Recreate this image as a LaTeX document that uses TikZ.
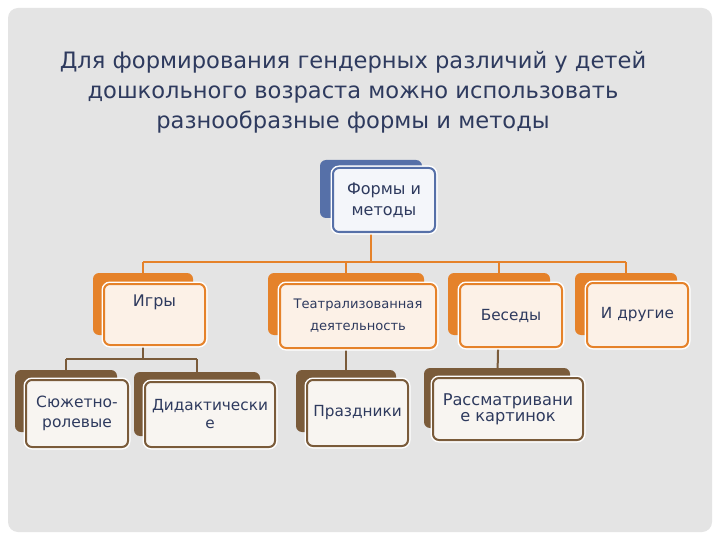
\documentclass[tikz,border=0pt]{standalone}
\usepackage{fontspec}
\setmainfont{DejaVu Sans}
\usetikzlibrary{calc}
\definecolor{panel}{HTML}{E4E4E4}
\definecolor{ink}{HTML}{2E3A5E}
\definecolor{org}{HTML}{E5822A}
\definecolor{orgfill}{HTML}{FCF1E7}
\definecolor{brn}{HTML}{7A5B3A}
\definecolor{brnfill}{HTML}{F8F5F1}
\definecolor{blu}{HTML}{5670A8}
\definecolor{blufill}{HTML}{F4F6FA}
\pgfdeclarelayer{bgpanel}
\pgfdeclarelayer{bglines}
\pgfsetlayers{bgpanel,bglines,main}
\tikzset{
  boxbase/.style={rectangle, rounded corners=6pt, inner sep=0pt, align=center, text=ink, font=\fontsize{15.3}{20}\selectfont},
  backbox/.style={boxbase, fill=#1},
  frontbox/.style={boxbase, fill=#1fill, draw=#1, line width=2pt,
     preaction={draw=white, line width=5pt}},
  olink/.style={draw=org, line width=2pt},
  blink/.style={draw=brn, line width=2pt},
  boxtext/.style={inner sep=0pt, align=center, text=ink, font=\fontsize{16}{20}\selectfont}
}
\begin{document}
\begin{tikzpicture}[x=1pt,y=-1pt]
\useasboundingbox (0,0) rectangle (720,540);
\begin{pgfonlayer}{bgpanel}
\fill[white] (0,0) rectangle (720,540);
\fill[panel, rounded corners=10pt] (8,8) rectangle (712,532);
\end{pgfonlayer}

% title
\node[text=ink, align=center, font=\fontsize{22.6}{30}\selectfont] (title) at (353,92)
  {Для формирования гендерных различий у детей\\дошкольного возраста можно использовать\\разнообразные формы и методы};

% top node
\node[backbox=blu, minimum width=102pt, minimum height=58pt] (topB) at (371,189) {};
\node[frontbox=blu, minimum width=102pt, minimum height=64pt, font=\fontsize{16}{21}\selectfont] (top) at (384,200) {Формы и\\методы};

% level 2
\node[backbox=org, minimum width=100pt, minimum height=62pt] (igryB) at (143,304) {};
\node[frontbox=org, minimum width=101pt, minimum height=61pt] (igry) at (154.5,314.5) {};
\node[boxtext] (igryT) at (154.5,302) {Игры};

\node[backbox=org, minimum width=156pt, minimum height=62pt] (teatrB) at (346,304) {};
\node[frontbox=org, minimum width=156pt, minimum height=64pt, font=\fontsize{13.1}{22}\selectfont] (teatr) at (358,316) {Театрализованная\\деятельность};

\node[backbox=org, minimum width=102pt, minimum height=62pt] (besB) at (499,304) {};
\node[frontbox=org, minimum width=102pt, minimum height=63pt] (bes) at (511,315.5) {Беседы};

\node[backbox=org, minimum width=102pt, minimum height=62pt] (drugB) at (626,304) {};
\node[frontbox=org, minimum width=101pt, minimum height=64pt] (drug) at (637.5,315) {И другие};

% level 3
\node[backbox=brn, minimum width=102pt, minimum height=62pt] (syuzB) at (66,401) {};
\node[frontbox=brn, minimum width=102pt, minimum height=67pt, font=\fontsize{15.5}{20}\selectfont] (syuz) at (77,413.5) {Сюжетно-\\ролевые};

\node[backbox=brn, minimum width=126pt, minimum height=64pt] (didB) at (197,404) {};
\node[frontbox=brn, minimum width=130pt, minimum height=65pt, font=\fontsize{15.3}{18}\selectfont] (did) at (210,414.5) {Дидактически\\е};

\node[backbox=brn, minimum width=100pt, minimum height=62pt] (prazB) at (346,401) {};
\node[frontbox=brn, minimum width=101pt, minimum height=66pt] (praz) at (357.5,413) {Праздники};

\node[backbox=brn, minimum width=146pt, minimum height=60pt] (rasB) at (497,398) {};
\node[frontbox=brn, minimum width=150pt, minimum height=62pt, font=\fontsize{16.2}{16}\selectfont] (ras) at (508,409) {Рассматривани\\е картинок};

% connectors
\begin{pgfonlayer}{bglines}
\coordinate (bus) at (0,262);
\coordinate (bbus) at (0,359);
\draw[olink] (topB.center) -- (topB.center |- bus);
\draw[olink] (igryB.center |- bus) -- (drugB.center |- bus);
\draw[olink] (igryB.center |- bus) -- (igryB.center);
\draw[olink] (teatrB.center |- bus) -- (teatrB.center);
\draw[olink] (besB.center |- bus) -- (besB.center);
\draw[olink] (drugB.center |- bus) -- (drugB.center);
\draw[blink] (igryB.center) -- (igryB.center |- bbus);
\draw[blink] (syuzB.center |- bbus) -- (didB.center |- bbus);
\draw[blink] (syuzB.center |- bbus) -- (syuzB.center);
\draw[blink] (didB.center |- bbus) -- (didB.center);
\draw[blink] (teatrB.center) -- (prazB.center);
\draw[blink] (besB.center) -- (rasB.center);
\end{pgfonlayer}
\end{tikzpicture}
\end{document}
